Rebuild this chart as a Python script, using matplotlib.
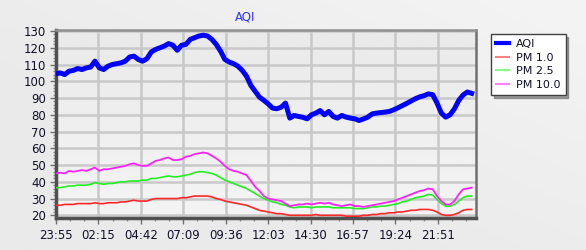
import matplotlib
matplotlib.use("Agg")
import matplotlib.pyplot as plt
import numpy as np
from matplotlib.lines import Line2D

# time axis: minutes after 23:55, one sample every 15 minutes
minutes = list(range(0, 1441, 15))

aqi = [104.5, 105, 104, 106, 106.5, 107.6, 107, 108, 108.5, 112, 108, 107, 109, 110, 110.5, 111,
       112, 114.5, 115, 113, 112, 113.5, 117.5, 119, 120, 121, 122.5, 121.5, 118.5, 121.5, 122, 125,
       126, 127, 127.5, 127, 125, 122, 118, 113, 111.5, 110.5, 109, 106.5, 103, 97.5, 94, 90.5,
       88.6, 86.5, 84, 83.6, 84.5, 87, 78, 79.6, 79, 78.5, 77.6, 80, 81, 82.5, 80, 82,
       79, 78, 79.6, 78.6, 78, 77.6, 76.6, 77.5, 78.6, 80.5, 81, 81.3, 81.6, 82, 83, 84.2,
       85.5, 86.8, 88.2, 89.6, 90.7, 91.4, 92.5, 92, 87, 81, 78.6, 80, 83.5, 88.5, 91.8, 93.6, 92.8]

pm10 = [45, 45.5, 45, 46.5, 46, 46.5, 47, 46.5, 47.5, 48.5, 46.5, 47.5, 47.5, 48, 48.5, 49,
        49.5, 50.5, 51, 50, 49.5, 49.5, 51, 52.5, 53, 54, 54.5, 53, 53, 53.5, 55, 55.5,
        56.5, 57, 57.5, 57, 55.5, 54, 52, 49.5, 47.5, 46.5, 46, 45, 44, 40.5, 37, 34.5,
        31.5, 30, 29.5, 29, 28.5, 27, 25.5, 26, 26.5, 26.5, 27, 26.5, 27, 27.5, 27, 27.5,
        26.5, 26, 25.5, 26, 26.5, 25.5, 25.5, 25, 25.5, 26, 26.5, 27, 27.5, 28, 28.5, 29.5,
        30.5, 31.5, 32.5, 33.5, 34.5, 35, 36, 35.5, 31.5, 28.5, 26.5, 26.5, 28.5, 32.5, 35.5, 36, 36.5]

pm25 = [36.5, 36.5, 37, 37.5, 37.5, 38, 38, 38, 38.5, 39.5, 39, 38.5, 39, 39, 39.5, 40,
        40, 40.5, 40.5, 40.5, 41, 41, 42, 42, 42.5, 43, 43.5, 43, 43, 43.5, 44, 44.5,
        45.5, 46, 46, 45.5, 45, 44, 42.5, 41, 40, 39, 38, 37, 36, 34.5, 33, 31.5,
        30, 29, 28, 27.5, 26.5, 26, 25, 24.5, 25, 25, 25, 24.5, 25, 25, 25, 25,
        24.5, 24.5, 24.5, 24.5, 24.5, 24, 24, 24, 24.5, 25, 25, 25.5, 25.5, 26, 26.5, 27,
        28, 28.5, 29.5, 30.5, 31, 31.5, 32.5, 32, 29.5, 27, 25.5, 25.5, 26.5, 28.5, 30.5, 31.5, 31.5]

pm1 = [26, 26, 26.5, 26.5, 26.5, 27, 27, 27, 27, 27.5, 27, 27, 27.5, 27.5, 27.5, 28,
       28, 28.5, 29, 28.5, 28.5, 28.5, 29.5, 30, 30, 30, 30, 30, 30, 30.5, 30.5, 31,
       31.5, 31.5, 31.5, 31.5, 31, 30, 29.5, 28.5, 28, 27.5, 27, 26.5, 26, 25, 24, 23,
       22.5, 22, 21.5, 21, 21, 20.5, 20, 20, 20, 20, 20, 20, 20.5, 20, 20, 20,
       20, 20, 20, 19.5, 19.5, 19.5, 19.5, 20, 20, 20.5, 20.5, 21, 21, 21.5, 21.5, 22,
       22, 22.5, 23, 23, 23.5, 23.5, 23.5, 23, 22, 20.5, 20, 20, 20.5, 21.5, 23, 23.5, 23.5]

tick_minutes = [0, 147, 294, 441, 588, 735, 882, 1029, 1176, 1323]
tick_labels = ["23:55", "02:15", "04:42", "07:09", "09:36", "12:03", "14:30", "16:57", "19:24", "21:51"]
y_ticks = [20, 30, 40, 50, 60, 70, 80, 90, 100, 110, 120, 130]

series_names = ["AQI", "PM 1.0", "PM 2.5", "PM 10.0"]

W, H = 586, 250
fig = plt.figure(figsize=(W / 100, H / 100), dpi=100, facecolor="#ececec")

# figure background gradient
bg = fig.add_axes([0, 0, 1, 1], zorder=-10)
gx = np.linspace(0, 1, 200)
gy = np.linspace(0, 1, 100)
GX, GY = np.meshgrid(gx, gy)
grad = 0.915 + 0.05 * np.clip((GX * 0.6 + (1 - GY) * 0.6) - 0.4, 0, 1)
bg.imshow(grad, cmap="gray", vmin=0, vmax=1, aspect="auto", extent=[0, 1, 0, 1], origin="upper")
bg.axis("off")

ax = fig.add_axes([56 / W, 1 - 218 / H, (476 - 56) / W, (218 - 30) / H])
ax.set_facecolor("#f3f3f3")
# plot-area gradient (darker near the top)
ag = np.linspace(0.955, 0.915, 100).reshape(-1, 1)
ax.imshow(np.tile(ag, (1, 10)), cmap="gray", vmin=0, vmax=1, aspect="auto",
          extent=[0, 1, 0, 1], transform=ax.transAxes, zorder=0, origin="lower")

ax.set_xlim(0, 1455)
ax.set_ylim(18.4, 130.6)

ax.grid(True, color="#c8c8c8", linewidth=1.8, zorder=1)
ax.set_axisbelow(True)

ax.plot(minutes, pm1, color="#ff2828", linewidth=1.2, zorder=3)
ax.plot(minutes, pm25, color="#22f022", linewidth=1.2, zorder=3)
ax.plot(minutes, pm10, color="#ff22ff", linewidth=1.3, zorder=4)
ax.plot(minutes, aqi, color="#0000ff", linewidth=3.6, zorder=5)

ax.set_xticks(tick_minutes)
ax.set_xticklabels(tick_labels)
ax.set_yticks(y_ticks)
ax.set_xticks([m + 49 * k for m in tick_minutes for k in (1, 2)], minor=True)
ax.set_yticks(np.arange(20, 131, 2), minor=True)

ax.tick_params(axis="both", which="major", labelsize=8.5, colors="#707070",
               labelcolor="#101028", length=4, width=1)
ax.tick_params(axis="both", which="minor", colors="#909090", length=2, width=1)
ax.tick_params(axis="x", pad=4)
ax.tick_params(axis="y", pad=3)

for side in ("left", "bottom"):
    ax.spines[side].set_color("#505050")
    ax.spines[side].set_linewidth(2.5)
ax.spines["top"].set_color("#909090")
ax.spines["top"].set_linewidth(1.8)
ax.spines["right"].set_color("#707070")
ax.spines["right"].set_linewidth(1.8)

fig.text(245 / W, 1 - 17 / H, "AQI", color="#3030ff", fontsize=8.5,
         ha="center", va="center")

handles = [
    Line2D([], [], color="#0000ff", linewidth=3),
    Line2D([], [], color="#ff8080", linewidth=1.5),
    Line2D([], [], color="#80ff80", linewidth=1.5),
    Line2D([], [], color="#ff80ff", linewidth=1.5),
]
leg = fig.legend(handles, series_names, loc="upper left",
                 bbox_to_anchor=(491 / W, 1 - 34 / H), fontsize=8,
                 frameon=True, fancybox=False, shadow=True,
                 handlelength=1.2, handletextpad=0.6, labelspacing=0.33,
                 borderpad=0.45, borderaxespad=0)
leg.get_frame().set_edgecolor("#404040")
leg.get_frame().set_linewidth(1.0)
leg.get_frame().set_facecolor("white")
for t in leg.get_texts():
    t.set_color("#101028")

fig.savefig("out.png", dpi=100, facecolor=fig.get_facecolor())
